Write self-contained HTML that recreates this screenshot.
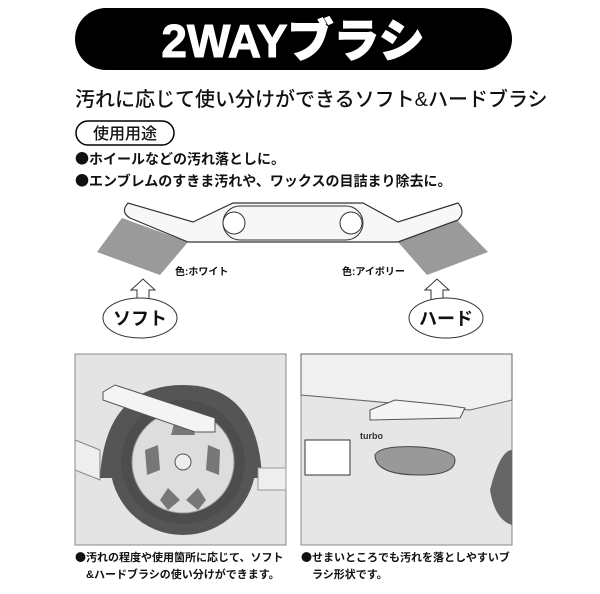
<!DOCTYPE html>
<html><head><meta charset="utf-8"><style>
html,body{margin:0;padding:0;background:#fff;}
svg{display:block;}
text{font-family:"Liberation Sans","Noto Sans CJK JP",sans-serif;font-weight:bold;}
.b{font-family:"Noto Sans CJK JP",sans-serif;}
</style></head><body>
<svg width="600" height="594" viewBox="0 0 600 594" xmlns="http://www.w3.org/2000/svg">
<rect x="75" y="8" width="437" height="62" rx="31" fill="#000"/>
<text x="293" y="57" font-size="46" fill="#fff" text-anchor="middle" style="font-weight:900" stroke="#fff" stroke-width="1">2WAYブラシ</text>
<text x="75" y="106" font-size="20" fill="#111" style="font-weight:500">汚れに応じて使い分けができるソフト&amp;ハードブラシ</text>
<rect x="76" y="121" width="98" height="24" rx="12" fill="#fff" stroke="#000" stroke-width="1.5"/>
<text x="125" y="139" font-size="16" text-anchor="middle" fill="#111" style="font-weight:500">使用用途</text>
<text x="75" y="164" font-size="14" fill="#111"><tspan class="b">●</tspan>ホイールなどの汚れ落としに。</text>
<text x="75" y="186" font-size="14" fill="#111"><tspan class="b">●</tspan>エンブレムのすきま汚れや、ワックスの目詰まり除去に。</text>
<!-- brush -->
<polygon points="122,218 188,242 160,275 97,252" fill="#9a9a9a"/>
<polygon points="455,218 488,252 427,275 398,242" fill="#9a9a9a"/>
<path d="M128,203 Q120,212 130,218 L188,242 L398,242 L458,220 Q466,212 458,203 L398,222 L363,203 L233,203 L193,222 Z" fill="#f7f7f7" stroke="#333" stroke-width="1.2"/>
<rect x="223" y="206" width="140" height="34" rx="17" fill="none" stroke="#333" stroke-width="1"/>
<circle cx="234" cy="223" r="11" fill="#fff" stroke="#333"/>
<circle cx="351" cy="223" r="11" fill="#fff" stroke="#333"/>
<text x="175" y="275" font-size="10" fill="#111">色:ホワイト</text>
<text x="342" y="275" font-size="10" fill="#111">色:アイボリー</text>
<path d="M137,300 L137,290 L131,290 L143,279 L155,290 L149,290 L149,300" fill="#fff" stroke="#333"/>
<path d="M431,300 L431,290 L425,290 L437,279 L449,290 L443,290 L443,300" fill="#fff" stroke="#333"/>
<ellipse cx="140" cy="318" rx="37" ry="20" fill="#fff" stroke="#333"/>
<ellipse cx="446" cy="318" rx="37" ry="20" fill="#fff" stroke="#333"/>
<text x="140" y="325" font-size="18" text-anchor="middle" fill="#111">ソフト</text>
<text x="446" y="325" font-size="18" text-anchor="middle" fill="#111">ハード</text>
<!-- left photo -->
<rect x="75" y="354" width="211" height="191" fill="#e4e4e4" stroke="#888"/>
<path d="M75,440 L100,450 L100,480 L75,470 Z" fill="#eee" stroke="#888"/>
<path d="M100,478 Q105,385 183,385 Q258,385 262,478 Z" fill="#555"/>
<circle cx="183" cy="462" r="73" fill="#555"/>
<circle cx="183" cy="462" r="62" fill="#4d4d4d"/>
<circle cx="183" cy="462" r="51" fill="#ddd" stroke="#999"/>
<g fill="#777">
<polygon points="175,420 191,420 195,435 171,435"/>
<polygon points="145,450 158,445 160,470 147,475"/>
<polygon points="220,450 208,445 206,470 219,475"/>
<polygon points="160,500 168,488 180,500 168,510"/>
<polygon points="206,500 198,488 186,500 198,510"/>
</g>
<circle cx="183" cy="462" r="8" fill="#eee" stroke="#555"/>
<rect x="258" y="468" width="28" height="22" fill="#eee" stroke="#999"/>
<path d="M103,392 L115,385 L215,418 L215,432 L195,432 L103,400 Z" fill="#f4f4f4" stroke="#555"/>
<!-- right photo -->
<rect x="301" y="354" width="211" height="191" fill="#e6e6e6" stroke="#888"/>
<path d="M301,354 L512,354 L512,400 L470,410 L301,395 Z" fill="#f0f0f0" stroke="#666"/>
<rect x="305" y="440" width="45" height="35" fill="#fff" stroke="#333"/>
<path d="M375,455 Q380,445 420,447 Q455,450 455,460 Q455,475 420,475 Q375,475 375,455 Z" fill="#999" stroke="#444"/>
<path d="M490,490 Q500,450 512,450 L512,525 Q495,520 490,490 Z" fill="#666"/>
<path d="M370,410 L395,400 L445,405 L465,408 L460,418 L370,420 Z" fill="#f5f5f5" stroke="#555"/>
<text x="360" y="439" font-size="9" fill="#333">turbo</text>
<text x="75" y="561" font-size="11" fill="#111"><tspan class="b">●</tspan>汚れの程度や使用箇所に応じて、ソフト</text>
<text x="86" y="578" font-size="11" fill="#111">&amp;ハードブラシの使い分けができます。</text>
<text x="301" y="561" font-size="11" fill="#111"><tspan class="b">●</tspan>せまいところでも汚れを落としやすいブ</text>
<text x="312" y="578" font-size="11" fill="#111">ラシ形状です。</text>
</svg>
</body></html>
